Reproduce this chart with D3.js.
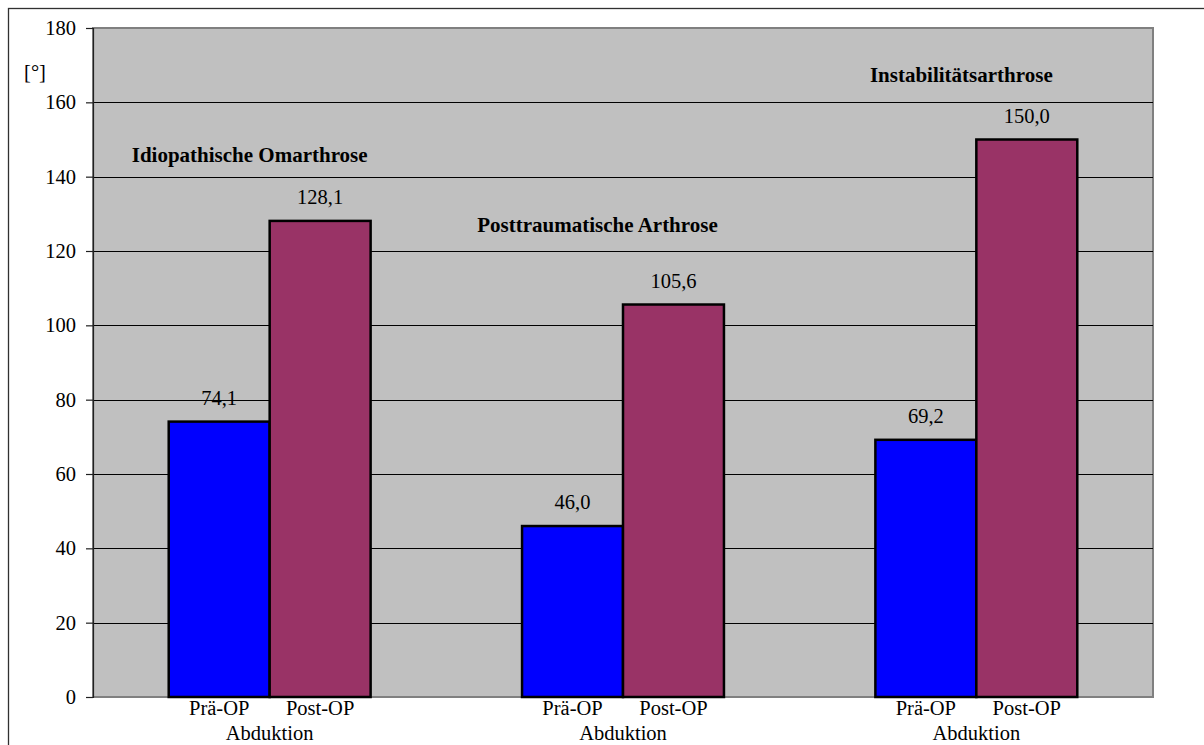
<!DOCTYPE html>
<html>
<head>
<meta charset="utf-8">
<script src="https://cdn.jsdelivr.net/npm/d3@7"></script>
<style>
  html, body { margin: 0; padding: 0; background: #ffffff; }
  svg { display: block; }
  svg text { font-family: 'Liberation Serif', 'Tinos', 'Times New Roman', 'DejaVu Serif', serif !important; fill: #000; }
</style>
</head>
<body>
<svg id="chart" width="1204" height="745"></svg>
<script>
// Abduction range of motion before and after surgery, by diagnosis group
const groups = ["Idiopathische Omarthrose", "Posttraumatische Arthrose", "Instabilitätsarthrose"];
const series = ["Prä-OP", "Post-OP"];
const preOp = [74.1, 46.0, 69.2];
const postOp = [128.1, 105.6, 150.0];
const movement = "Abduktion";
const yTicks = [0, 20, 40, 60, 80, 100, 120, 140, 160, 180];
const unitLabel = "[°]";

// Layout
const W = 1204, H = 745;
const plot = { left: 93, top: 28, right: 1153, bottom: 697 };
const colors = { "Prä-OP": "#0000FF", "Post-OP": "#993366" };
const fontSize = 20.5, titleSize = 21;
// per-group pixel nudges for the diagnosis captions
const titleNudge = [[-20, 0], [-25.5, -14], [-15, 1.5]];

const svg = d3.select("#chart");

// outer chart frame (extends past right and bottom edges)
svg.append("rect")
  .attr("x", 8.5).attr("y", 8.5)
  .attr("width", W + 20).attr("height", H + 20)
  .attr("fill", "#fff").attr("stroke", "#303030").attr("stroke-width", 1.3);

const x0 = d3.scaleBand()
  .domain(groups)
  .range([plot.left, plot.right])
  .paddingInner(3 / 7)
  .paddingOuter(1.5 / 7);

const x1 = d3.scaleBand()
  .domain(series)
  .range([0, x0.bandwidth()])
  .padding(0);

const y = d3.scaleLinear()
  .domain([0, 180])
  .range([plot.bottom, plot.top]);

// plot area background
svg.append("rect")
  .attr("x", plot.left).attr("y", plot.top)
  .attr("width", plot.right - plot.left).attr("height", plot.bottom - plot.top)
  .attr("fill", "#C0C0C0").attr("stroke", "#808080").attr("stroke-width", 2);

// gridlines
svg.append("g")
  .selectAll("line")
  .data(yTicks.filter(t => t > 0 && t < 180))
  .join("line")
  .attr("x1", plot.left).attr("x2", plot.right)
  .attr("y1", d => Math.round(y(d)) + 0.5).attr("y2", d => Math.round(y(d)) + 0.5)
  .attr("stroke", "#000").attr("stroke-width", 1);

// y axis
const yAxis = d3.axisLeft(y)
  .tickValues(yTicks)
  .tickSize(7)
  .tickPadding(10)
  .tickFormat(d3.format("d"));
const gy = svg.append("g")
  .attr("transform", `translate(${plot.left},0)`)
  .call(yAxis)
  .attr("font-family", null)
  .attr("font-size", fontSize);
gy.select(".domain").attr("stroke", "#202020").attr("stroke-width", 1.2);
gy.selectAll(".tick line").attr("stroke", "#202020").attr("stroke-width", 1.2);
gy.selectAll(".tick text").attr("fill", "#000");

// unit label
svg.append("text")
  .attr("x", 35).attr("y", 79)
  .attr("text-anchor", "middle")
  .attr("font-size", fontSize)
  .text(unitLabel);

// bars
const rows = groups.map((g, i) => ({ group: g, i, values: [
  { key: "Prä-OP", value: preOp[i] },
  { key: "Post-OP", value: postOp[i] }
]}));

const gGroups = svg.append("g")
  .selectAll("g")
  .data(rows)
  .join("g")
  .attr("transform", d => `translate(${x0(d.group)},0)`);

gGroups.selectAll("rect")
  .data(d => d.values)
  .join("rect")
  .attr("x", d => x1(d.key))
  .attr("y", d => y(d.value))
  .attr("width", x1.bandwidth())
  .attr("height", d => y(0) - y(d.value))
  .attr("fill", d => colors[d.key])
  .attr("stroke", "#000")
  .attr("stroke-width", 2.5);

// value labels
gGroups.selectAll("text.value")
  .data(d => d.values)
  .join("text")
  .attr("class", "value")
  .attr("x", d => x1(d.key) + x1.bandwidth() / 2)
  .attr("y", d => y(d.value) - 17)
  .attr("text-anchor", "middle")
  .attr("font-size", fontSize)
  .text(d => d3.format(".1f")(d.value).replace(".", ","));

// series labels under the bars
gGroups.selectAll("text.series")
  .data(d => d.values)
  .join("text")
  .attr("class", "series")
  .attr("x", d => x1(d.key) + x1.bandwidth() / 2)
  .attr("y", plot.bottom + 18)
  .attr("text-anchor", "middle")
  .attr("font-size", fontSize)
  .text(d => d.key);

// movement label per group
gGroups.append("text")
  .attr("x", x0.bandwidth() / 2)
  .attr("y", plot.bottom + 43)
  .attr("text-anchor", "middle")
  .attr("font-size", fontSize)
  .text(movement);

// diagnosis captions
svg.append("g")
  .selectAll("text")
  .data(rows)
  .join("text")
  .attr("x", d => x0(d.group) + x0.bandwidth() / 2 + titleNudge[d.i][0])
  .attr("y", d => y(postOp[d.i]) - 59 + titleNudge[d.i][1])
  .attr("text-anchor", "middle")
  .attr("font-size", titleSize)
  .attr("font-weight", "bold")
  .text(d => d.group);
</script>
</body>
</html>
